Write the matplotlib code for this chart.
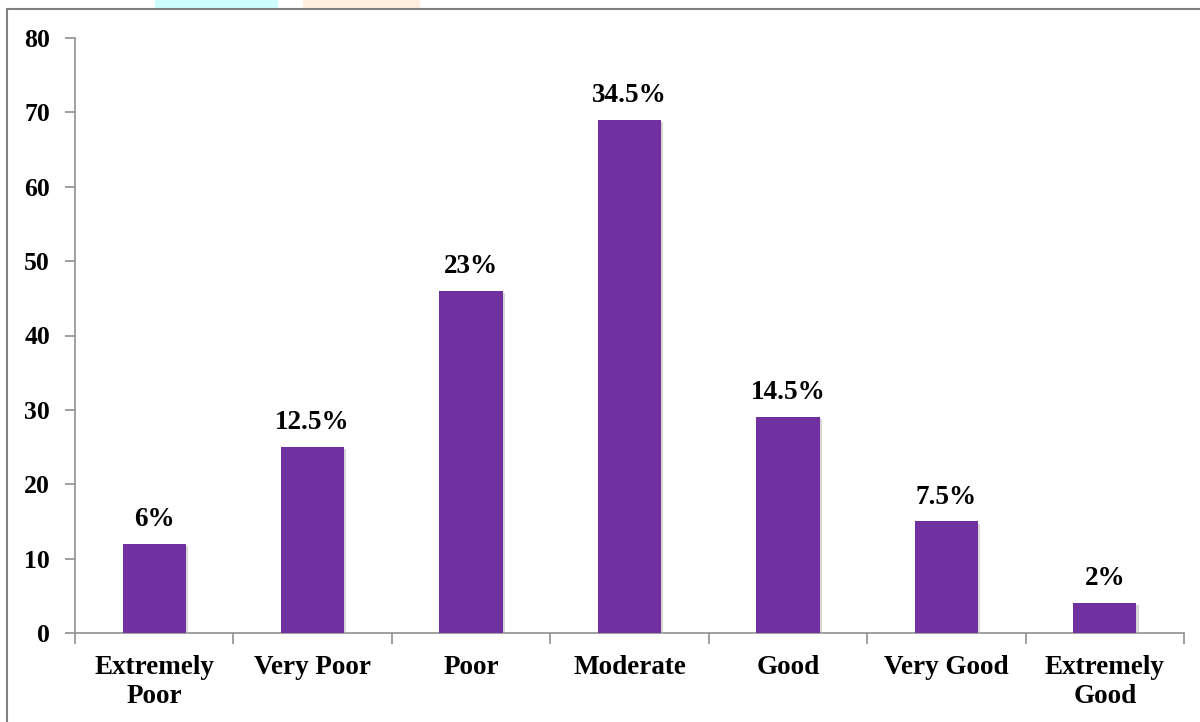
import matplotlib.pyplot as plt
import matplotlib.patheffects as pe
from matplotlib.patches import Rectangle
import numpy as np

# Data
categories = ['Extremely\nPoor', 'Very Poor', 'Poor', 'Moderate', 'Good', 'Very Good', 'Extremely\nGood']
counts = [12, 25, 46, 69, 29, 15, 4]
pct_labels = ['6%', '12.5%', '23%', '34.5%', '14.5%', '7.5%', '2%']
yticks = [0, 10, 20, 30, 40, 50, 60, 70, 80]

plt.rcParams['font.family'] = ['Liberation Serif', 'DejaVu Serif']
plt.rcParams['font.weight'] = 'bold'

fig = plt.figure(figsize=(12, 7.22), dpi=100)

# faint watermark pieces at top and outer frame
fig.patches.append(Rectangle((155/1200, 1 - 9/722), 123/1200, 9/722, transform=fig.transFigure,
                             facecolor='#ccfcfc', edgecolor='none'))
fig.patches.append(Rectangle((303/1200, 1 - 9/722), 117/1200, 9/722, transform=fig.transFigure,
                             facecolor='#ffeedd', edgecolor='none'))
fig.patches.append(Rectangle((7/1200, -0.01), 1.5, 1 - 9/722 + 0.01, transform=fig.transFigure,
                             facecolor='none', edgecolor='#808080', linewidth=1.5))

ax = fig.add_axes([75/1200, 1 - 633/722, (1184 - 75)/1200, (633 - 38)/722])

x = np.arange(len(categories))
bars = ax.bar(x, counts, width=0.4, color='#7030A0', zorder=3)
for b in bars:
    b.set_path_effects([pe.SimplePatchShadow(offset=(1.5, -1.5), shadow_rgbFace='#b0b0b0', alpha=0.5),
                        pe.Normal()])

for xi, v, lab in zip(x, counts, pct_labels):
    ax.text(xi, v + 1.6, lab, ha='center', va='bottom', fontsize=19.5, fontweight='bold')

ax.set_xlim(-0.5, len(categories) - 0.5)
ax.set_ylim(0, 80)
ax.set_yticks(yticks)
ax.set_yticklabels([str(t) for t in yticks], fontsize=18.5, fontweight='bold')

ax.set_xticks(x)
ax.set_xticklabels(categories, fontsize=19.5, fontweight='bold', linespacing=1.2)
ax.tick_params(axis='x', length=0, pad=16)
ax.set_xticks(np.arange(len(categories) + 1) - 0.5, minor=True)
ax.tick_params(axis='x', which='minor', length=8, color='#909090', width=1.2)
ax.tick_params(axis='y', length=7, color='#909090', width=1.2, pad=11)

for s in ['top', 'right']:
    ax.spines[s].set_visible(False)
for s in ['left', 'bottom']:
    ax.spines[s].set_color('#909090')
    ax.spines[s].set_linewidth(1.2)

fig.savefig('out.png', dpi=100)
